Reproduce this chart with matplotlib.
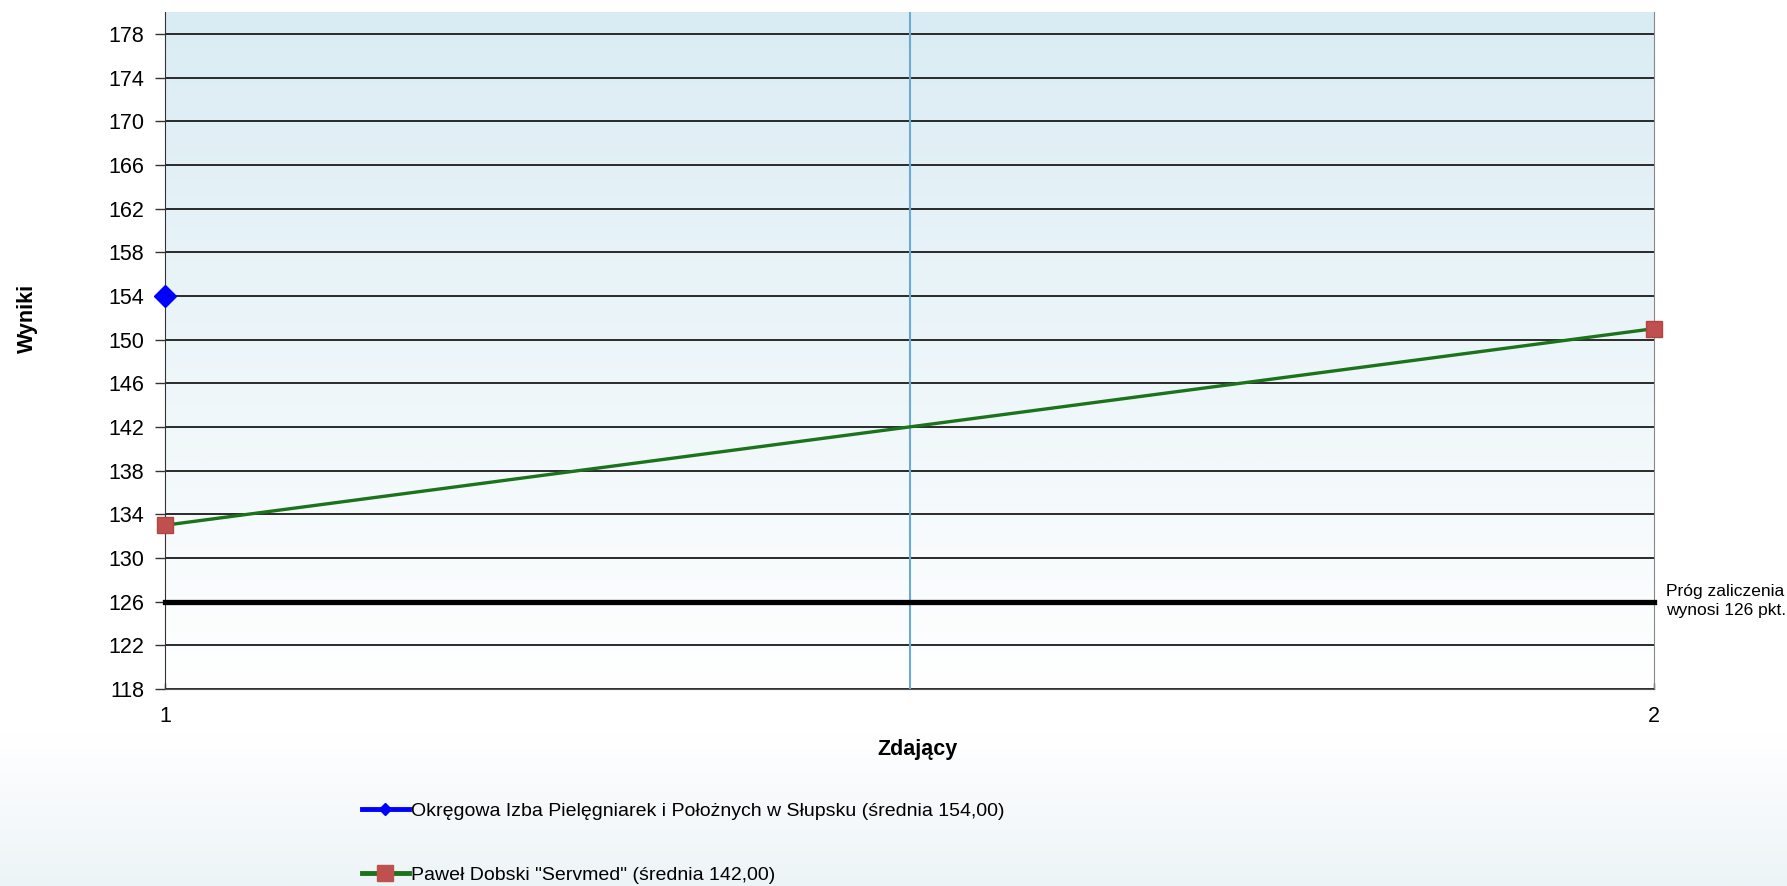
import matplotlib
matplotlib.use("Agg")
import matplotlib.pyplot as plt
import numpy as np
from matplotlib.colors import LinearSegmentedColormap
from matplotlib.lines import Line2D

plt.rcParams['font.family'] = ['Liberation Sans', 'DejaVu Sans']

x_ticks = [1, 2]
series1_name = "Okręgowa Izba Pielęgniarek i Położnych w Słupsku (średnia 154,00)"
series1_x = [1]
series1_y = [154]
series2_name = 'Paweł Dobski "Servmed" (średnia 142,00)'
series2_x = [1, 2]
series2_y = [133, 151]
threshold = 126
threshold_text = "Próg zaliczenia\nwynosi 126 pkt."
y_ticks = list(range(118, 179, 4))

W, H = 1787, 886
fig = plt.figure(figsize=(W/100, H/100), dpi=100)

# figure background gradient
bg = fig.add_axes([0, 0, 1, 1], zorder=-10)
grad = np.linspace(0, 1, 512).reshape(-1, 1)
cm_fig = LinearSegmentedColormap.from_list(
    "f", [(0.0, "#edf4f7"), (0.17, "#ffffff"), (1.0, "#ffffff")])
bg.imshow(grad, aspect='auto', cmap=cm_fig, extent=[0, 1, 0, 1], origin='lower')
bg.axis('off')

L, R, T, B = 165, 1654, 12, 689
ax = fig.add_axes([L/W, 1 - B/H, (R-L)/W, (B-T)/H])
ax.set_xlim(1, 2)
ax.set_ylim(118, 180)

cm_ax = LinearSegmentedColormap.from_list("a", ["#ffffff", "#daecf3"])
ax.imshow(grad, aspect='auto', cmap=cm_ax, extent=[1, 2, 118, 180], origin='lower', zorder=0)

for yv in y_ticks:
    ax.axhline(yv, color='#1a1a1a', lw=1.3, zorder=1)
ax.axvline(1.5, color='#6aaad8', lw=1.5, zorder=1)

ax.plot([1, 2], [threshold, threshold], color='black', lw=3.8, zorder=3, clip_on=False)
ax.plot(series2_x, series2_y, color='#1b731b', lw=2.4, marker='s', ms=12,
        mfc='#c0504d', mec='#b04545', zorder=4, clip_on=False)
ax.plot(series1_x, series1_y, color='#0000ff', lw=3, marker='D', ms=11,
        mfc='#0000ff', mec='#0000ff', zorder=5, clip_on=False)

ax.set_yticks(y_ticks)
ax.set_xticks(x_ticks)
ax.tick_params(axis='y', direction='out', length=7, width=1, color='#333333', labelsize=15.5, pad=8)
ax.tick_params(axis='x', direction='in', length=4, width=1, color='#333333', labelsize=15.5, pad=12)
ax.spines['top'].set_visible(False)
ax.spines['left'].set_color('#333333')
ax.spines['bottom'].set_color('#555555')
ax.spines['right'].set_color('#888888')

fig.text(27/W, 1 - 318/H, "Wyniki", rotation=90, ha='center', va='center',
         fontsize=15.5, fontweight='bold')
fig.text(917/W, 1 - 750/H, "Zdający", ha='center', va='center',
         fontsize=15.5, fontweight='bold')
fig.text(1666/W, 1 - 601/H, threshold_text, ha='left', va='center', fontsize=12.5,
         linespacing=1.3)

h1 = Line2D([], [], color='#0000ff', lw=3.5, marker='D', ms=6, mfc='#0000ff', mec='#0000ff')
h2 = Line2D([], [], color='#1b731b', lw=3.5, marker='s', ms=11, mfc='#c0504d', mec='#c0504d')
leg = fig.legend([h1, h2], [series1_name, series2_name], loc='upper left',
                 bbox_to_anchor=(362/W, 1 - 802/H), frameon=False, fontsize=14,
                 handlelength=2.4, handletextpad=0.1, labelspacing=2.4, borderaxespad=0,
                 borderpad=0)

fig.savefig("out.png", dpi=100)
